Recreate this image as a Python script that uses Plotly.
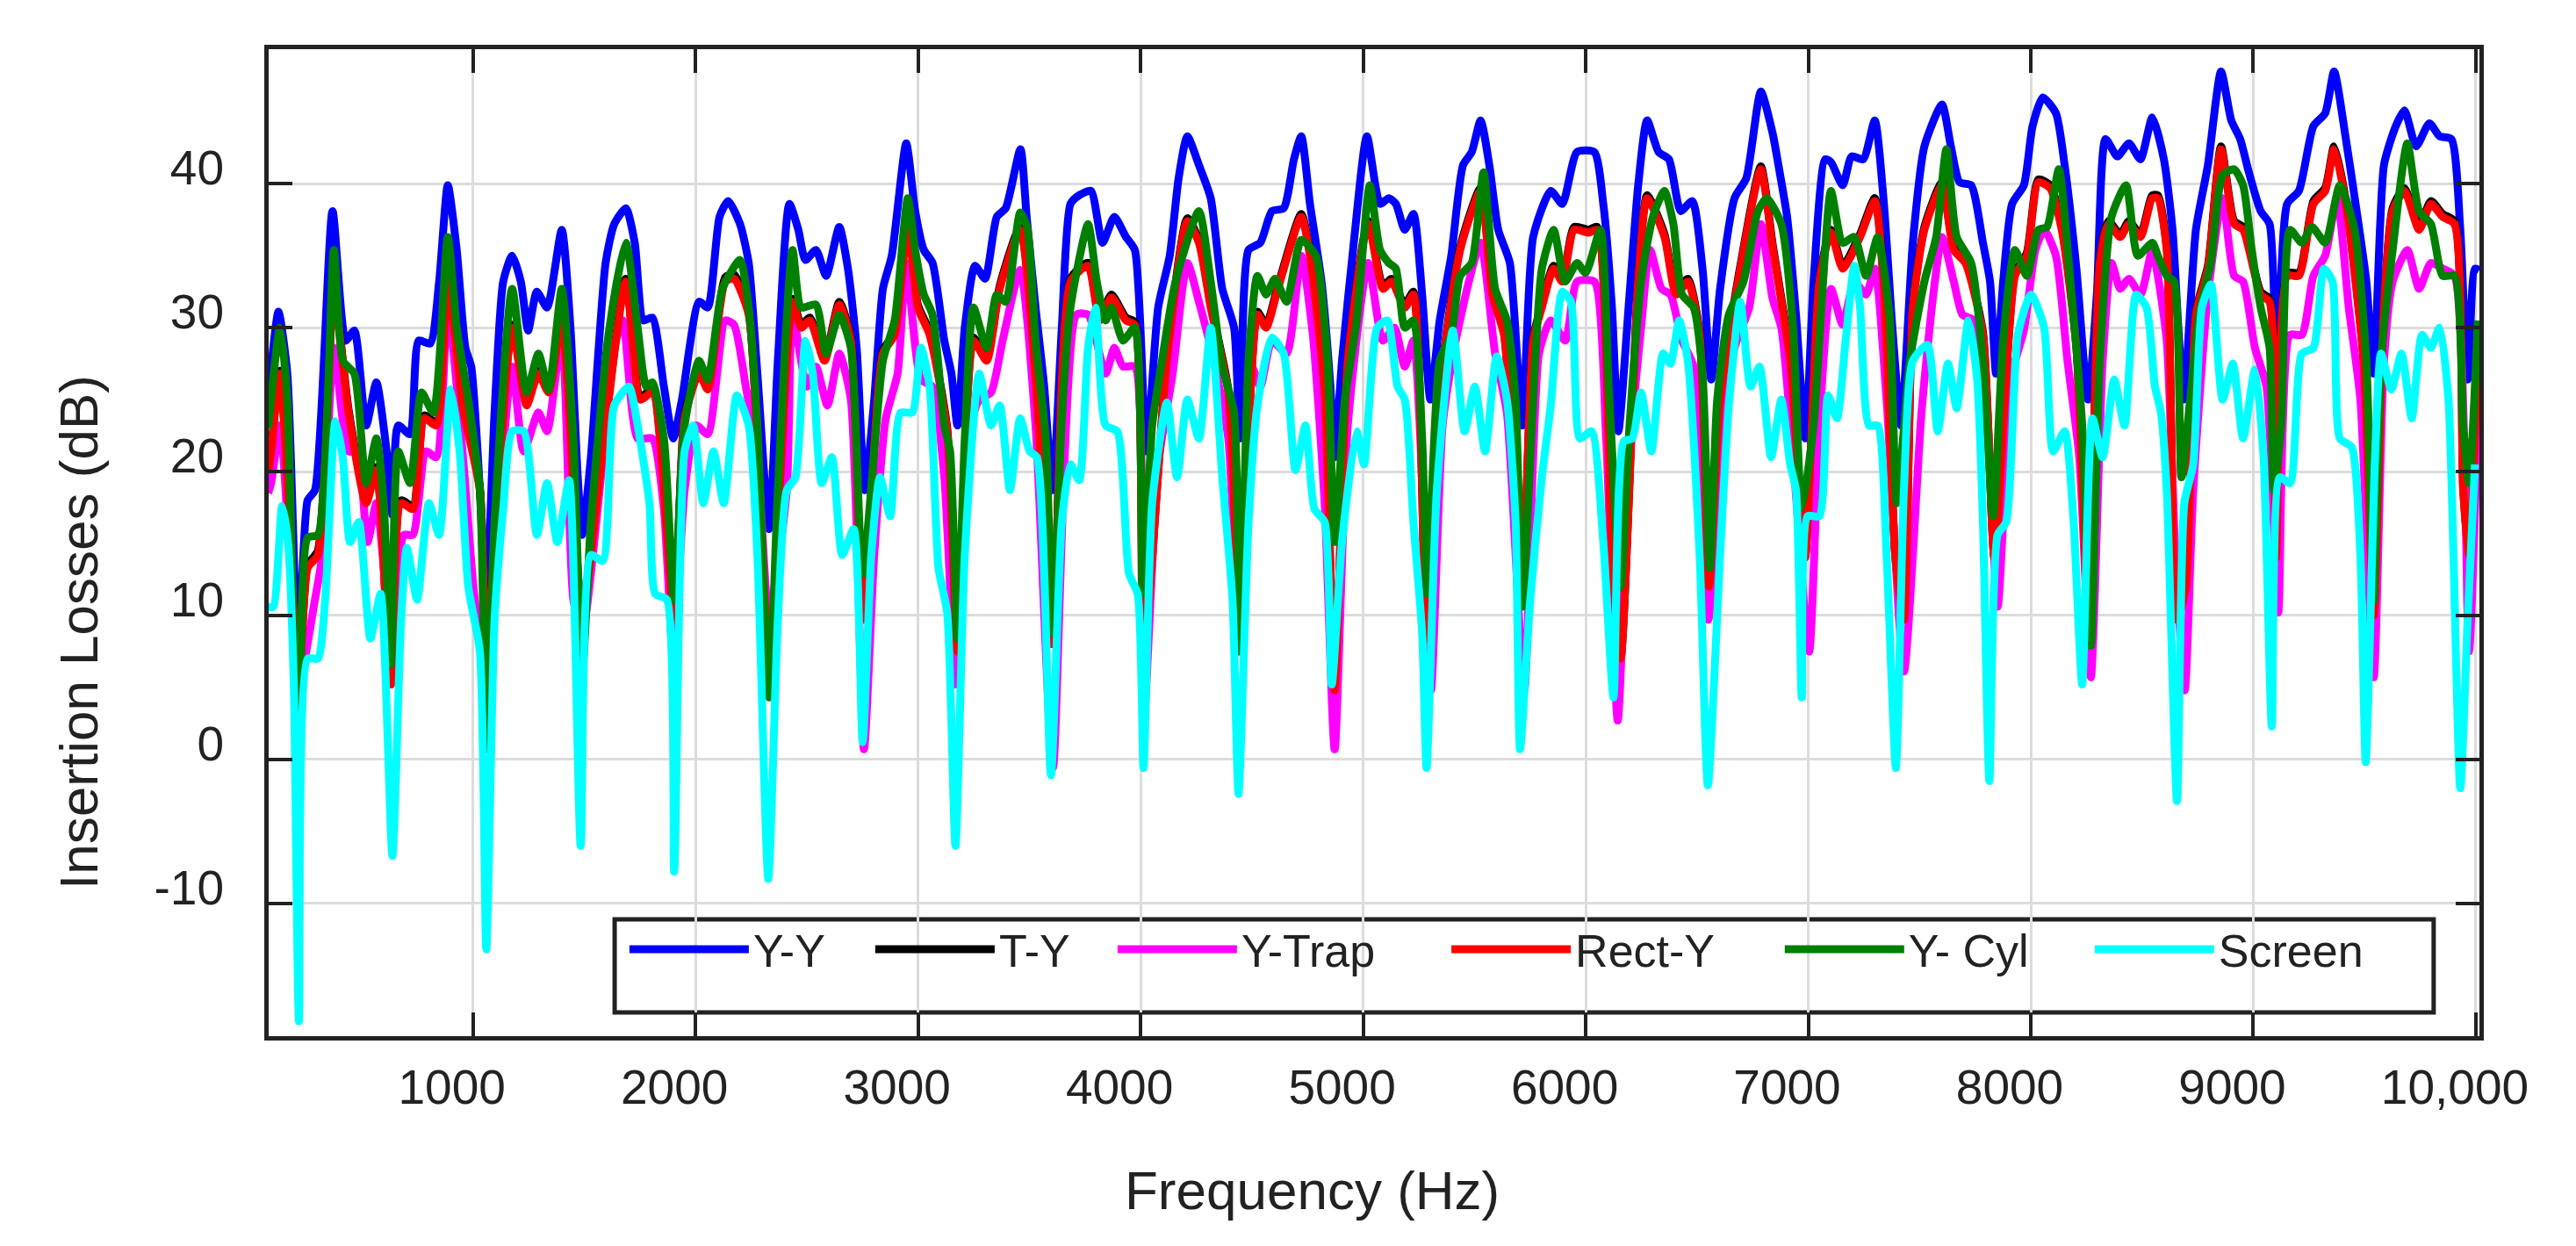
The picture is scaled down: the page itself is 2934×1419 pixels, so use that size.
import plotly.graph_objects as go

# Insertion losses (Hz, dB)
f_yy = [80, 126, 166, 215, 257, 290, 369, 428, 467, 520, 566, 612, 638, 664, 717, 756, 808, 848, 887, 927,
        966, 992, 1031, 1058, 1097, 1136, 1176, 1215, 1248, 1287, 1333, 1399, 1438, 1471, 1491, 1530, 1596, 1635, 1687, 1727,
        1766, 1806, 1858, 1900, 1939, 2016, 2055, 2108, 2147, 2200, 2239, 2278, 2331, 2370, 2422, 2462, 2494, 2541, 2587, 2646,
        2685, 2724, 2761, 2803, 2842, 2882, 2947, 2987, 3026, 3065, 3118, 3150, 3177, 3210, 3256, 3301, 3354, 3394, 3460, 3488,
        3528, 3567, 3604, 3646, 3685, 3724, 3777, 3829, 3882, 3934, 3974, 4026, 4079, 4131, 4171, 4210, 4262, 4315, 4367, 4420,
        4446, 4485, 4538, 4590, 4643, 4689, 4722, 4761, 4813, 4853, 4872, 4905, 4958, 5017, 5076, 5115, 5147, 5187, 5226, 5265,
        5302, 5344, 5396, 5449, 5488, 5528, 5567, 5607, 5659, 5715, 5764, 5843, 5895, 5961, 6039, 6079, 6118, 6147, 6197, 6236,
        6276, 6328, 6374, 6427, 6479, 6525, 6564, 6604, 6669, 6722, 6787, 6840, 6866, 6905, 6945, 6987, 7024, 7076, 7102, 7155,
        7195, 7247, 7299, 7338, 7378, 7417, 7470, 7522, 7601, 7641, 7680, 7732, 7785, 7817, 7844, 7876, 7916, 7969, 8008, 8054,
        8113, 8152, 8205, 8257, 8297, 8336, 8389, 8441, 8493, 8546, 8598, 8637, 8663, 8687, 8742, 8796, 8855, 8901, 8941, 8980,
        9033, 9073, 9106, 9152, 9205, 9270, 9323, 9363, 9416, 9468, 9508, 9541, 9587, 9640, 9679, 9732, 9791, 9837, 9890, 9930,
        9963, 9996, 10015]
il_yy = [25, 31.1, 26.8, 6.6, 18, 18.7, 38.1, 29.1, 29.8, 23.2, 26.2, 21.4, 17, 23.2, 22.6, 29.1, 28.9, 33.2, 39.9, 35.4,
         28.6, 27.3, 18.7, 10.5, 24.1, 33.2, 35, 33.2, 29.8, 32.5, 31.4, 36.8, 30, 19.6, 15.6, 21, 34.5, 37.2, 38.3, 35.9,
         30.5, 30.7, 25.9, 22.3, 25, 31.8, 31.4, 37.7, 38.8, 37.2, 34.5, 26.8, 16, 27.7, 38.6, 36.8, 34.7, 35.4, 33.6, 37,
         34.1, 28.6, 18.7, 25, 32.7, 35, 42.8, 38.1, 35.4, 34.5, 29.1, 26.8, 23.2, 30, 34.3, 33.4, 37.7, 38.3, 42.4, 37.7,
         31.4, 25.9, 18.7, 30, 38.6, 39.2, 39.5, 35.9, 37.7, 36.3, 35.4, 21.4, 31.4, 35, 40.4, 43.3, 41.3, 39, 32.7, 30,
         22.3, 35.4, 35.9, 38.1, 38.3, 41.7, 43.3, 38.6, 33.2, 25.9, 21, 27.7, 35.9, 43.3, 38.6, 39, 38.6, 36.8, 37.9, 32.3,
         25, 30.5, 35, 41.3, 42.2, 44.4, 41.3, 36.8, 34.5, 23.2, 36.3, 39.5, 38.6, 42.2, 42.2, 38.6, 31.4, 22.8, 32.3, 39.9,
         44.4, 42.2, 41.7, 38.1, 38.8, 34.1, 26.4, 32.7, 39, 40.4, 46.4, 43.5, 41.3, 37.7, 30.9, 22.3, 33.2, 41.7, 41.5, 39.9,
         41.9, 41.7, 44.4, 39, 30, 23.2, 35.9, 42.6, 45.5, 42.6, 40.1, 39.9, 35.9, 33.2, 26.8, 33.2, 38.6, 39.9, 44, 46,
         44.9, 41.3, 34.1, 25, 32.3, 43.1, 41.9, 42.8, 41.7, 44.6, 41.7, 36.8, 30, 25, 36.8, 41.3, 47.8, 44.4, 43.1, 40.8,
         38.1, 37.2, 26.8, 38.6, 39.5, 44, 44.9, 47.8, 43.1, 37.7, 33.2, 26.8, 41.3, 44, 45.1, 42.6, 44.2, 43.3, 43.1, 36.8,
         26.4, 34.1, 34]

f_rect = [80, 93, 133, 218, 257, 303, 375, 441, 520, 566, 631, 677, 730, 782, 835, 887, 953, 1031, 1060, 1176,
          1241, 1294, 1340, 1399, 1491, 1556, 1687, 1753, 1806, 1904, 1951, 2016, 2055, 2134, 2173, 2239, 2331, 2436, 2475, 2514,
          2580, 2646, 2698, 2751, 2842, 2895, 2954, 2999, 3052, 3131, 3177, 3249, 3308, 3367, 3459, 3528, 3606, 3685, 3764, 3816,
          3869, 3934, 3974, 4013, 4118, 4210, 4262, 4315, 4394, 4446, 4525, 4564, 4617, 4722, 4761, 4827, 4872, 4931, 5023, 5089,
          5128, 5187, 5226, 5285, 5344, 5436, 5528, 5580, 5633, 5715, 5764, 5803, 5856, 5895, 5948, 6013, 6052, 6118, 6157, 6236,
          6276, 6354, 6407, 6459, 6512, 6554, 6604, 6695, 6787, 6840, 6919, 6985, 7050, 7102, 7155, 7233, 7299, 7338, 7391, 7430,
          7470, 7522, 7601, 7654, 7706, 7785, 7837, 7929, 7982, 8034, 8087, 8139, 8205, 8260, 8310, 8349, 8402, 8441, 8493, 8546,
          8571, 8611, 8657, 8697, 8742, 8796, 8855, 8914, 8954, 9033, 9073, 9102, 9152, 9205, 9270, 9323, 9363, 9416, 9495, 9541,
          9587, 9626, 9679, 9745, 9798, 9851, 9904, 9943, 9969, 10009]
il_rect = [20, 21.4, 26.8, 5.2, 13.3, 14.2, 32.3, 24.1, 17.8, 20.1, 5.2, 17.8, 17.4, 23.7, 23.2, 33.2, 24.6, 18.7, 7.5, 30,
           24.6, 26.8, 25.5, 30.5, 9.7, 17.8, 33.2, 25, 25.5, 9.7, 23.7, 26.8, 25.7, 33.2, 33.4, 30.9, 7, 31.8, 30, 30.5,
           27.7, 31.6, 29.1, 9.7, 28.2, 29.5, 37.2, 31.4, 29.5, 22.8, 7.5, 29.1, 27.7, 32.7, 36.8, 26.4, 8, 33.2, 34.3, 30.5,
           32.1, 30.5, 30.2, 7, 27.7, 37.4, 35.9, 31.4, 25.5, 9.7, 30.9, 30, 32.7, 37.7, 35, 25.5, 4.8, 27.7, 37.2, 32.7,
           33.2, 31.4, 32.3, 8.4, 25.5, 35.4, 39.5, 32.3, 29.5, 12, 29.1, 31.4, 34.1, 33.2, 36.8, 36.6, 36.8, 14.2, 7, 33.2,
           39, 36.3, 32.3, 33.2, 29.5, 12, 25, 34.1, 41, 35.6, 27.7, 14, 33.2, 36.6, 34.1, 36.3, 38.8, 33.2, 14.2, 9.7,
           31.4, 36.8, 39.9, 35.4, 34.5, 29.5, 14, 33.6, 35, 40.1, 39.7, 36.8, 28.6, 9, 34.5, 37.2, 36.3, 37.2, 36.3, 39,
           39, 35.4, 9.7, 12, 30.9, 34.1, 42.4, 37.2, 36.8, 32.3, 31.8, 14, 33.6, 33.6, 38.6, 39.5, 42.4, 38.6, 27.7, 10,
           31.4, 38.1, 39.5, 36.8, 38.6, 37.7, 37.2, 18.7, 14.2, 28.6]

# T-Y sits almost exactly under Rect-Y in the picture
f_ty = f_rect
il_ty = [20.3, 21.6, 27, 5.2, 13.5, 14.5, 32.5, 24.3, 18, 20.3, 5.2, 18, 17.6, 23.9, 23.4, 33.4, 24.8, 18.9, 7.5, 30.2,
         24.8, 27, 25.7, 30.7, 9.7, 18, 33.4, 25.2, 25.7, 9.7, 23.9, 27, 25.9, 33.5, 33.7, 31.1, 7, 32, 30.2, 30.7,
         27.9, 31.8, 29.3, 9.7, 28.4, 29.7, 37.4, 31.6, 29.7, 23, 7.5, 29.3, 27.9, 32.9, 37, 26.6, 8, 33.4, 34.5, 30.7,
         32.3, 30.7, 30.4, 7, 27.9, 37.6, 36.1, 31.6, 25.7, 9.7, 31.1, 30.2, 32.9, 37.9, 35.2, 25.7, 4.8, 27.9, 37.4, 32.9,
         33.4, 31.6, 32.5, 8.4, 25.7, 35.6, 39.7, 32.5, 29.7, 12, 29.3, 31.6, 34.3, 33.4, 37, 36.8, 37, 14.2, 7, 33.4,
         39.2, 36.5, 32.5, 33.4, 29.7, 12, 25.2, 34.3, 41.2, 35.8, 27.9, 14, 33.4, 36.8, 34.3, 36.5, 39, 33.4, 14.2, 9.7,
         31.6, 37, 40.1, 35.6, 34.7, 29.7, 14, 33.8, 35.2, 40.3, 39.9, 37, 28.8, 9, 34.7, 37.4, 36.5, 37.4, 36.5, 39.2,
         39.2, 35.6, 9.7, 12, 31.1, 34.3, 42.6, 37.4, 37, 32.5, 32, 14, 33.8, 33.8, 38.8, 39.7, 42.6, 38.8, 27.9, 10,
         31.6, 38.3, 39.7, 37, 38.8, 37.9, 37.4, 18.9, 14.2, 28.8]

f_trap = [80, 93, 133, 179, 218, 290, 323, 375, 441, 480, 526, 566, 599, 631, 690, 730, 789, 835, 887, 953,
          1005, 1060, 1110, 1176, 1228, 1294, 1333, 1399, 1451, 1491, 1569, 1635, 1674, 1740, 1806, 1858, 1900, 1951, 2003, 2055,
          2134, 2173, 2226, 2278, 2331, 2410, 2436, 2501, 2541, 2593, 2646, 2698, 2757, 2803, 2855, 2908, 2947, 3013, 3065, 3118,
          3170, 3223, 3275, 3328, 3380, 3459, 3528, 3606, 3712, 3764, 3843, 3882, 3921, 3974, 4013, 4079, 4144, 4210, 4262, 4315,
          4394, 4442, 4499, 4538, 4590, 4656, 4722, 4774, 4827, 4872, 4931, 5023, 5089, 5141, 5187, 5226, 5265, 5305, 5357, 5410,
          5475, 5528, 5593, 5646, 5724, 5790, 5843, 5908, 5961, 6039, 6092, 6144, 6197, 6249, 6289, 6341, 6381, 6433, 6485, 6551,
          6604, 6669, 6735, 6787, 6840, 6879, 6932, 7004, 7050, 7102, 7155, 7207, 7260, 7299, 7352, 7430, 7509, 7562, 7601, 7654,
          7693, 7746, 7798, 7851, 7916, 7969, 8021, 8060, 8113, 8165, 8218, 8270, 8323, 8363, 8402, 8441, 8493, 8546, 8571, 8611,
          8650, 8692, 8730, 8796, 8862, 8914, 8954, 9007, 9059, 9112, 9165, 9218, 9270, 9323, 9376, 9429, 9481, 9541, 9587, 9626,
          9692, 9745, 9798, 9851, 9904, 9969, 10009]
il_trap = [18.5, 19.2, 23.2, 13.3, 5.2, 11.1, 14.2, 28.6, 21.4, 21.4, 15.1, 17.8, 13.3, 5.2, 15.6, 15.6, 21.4, 21, 31.4, 21.4,
           11.5, 5.2, 16.5, 27.3, 21.4, 24.1, 22.8, 29.5, 11.1, 8.8, 18.7, 28.6, 30.5, 22.3, 22.3, 17.4, 7, 18.7, 23.2, 22.6,
           30.5, 30.2, 25.9, 21, 9.7, 18.7, 30.9, 25.9, 27.3, 24.6, 28.2, 25, 0.7, 14.2, 23.7, 26.8, 34.5, 26.4, 25.9, 19.6,
           5.2, 22.3, 25, 25.5, 29.1, 34, 23.2, -0.6, 30.9, 30.9, 26.8, 28.6, 27.3, 27.3, 2.5, 20.5, 26.8, 34.5, 31.8, 28.6,
           22.3, 7.5, 27.3, 25.9, 29.1, 28.2, 35, 29.5, 17.8, 0.7, 23.2, 34.5, 29.1, 30, 27.3, 29.1, 19.6, 4.8, 23.2, 28.6,
           33.2, 35.9, 28.2, 24.1, 4.8, 28.2, 30.5, 29.1, 33.2, 33.2, 22.3, 2.7, 21, 30, 35.4, 32.7, 32.3, 29.1, 27.3, 9.7,
           21, 28.6, 31.4, 37.2, 32, 30, 21, 7.5, 23.2, 32.7, 30.2, 33.2, 32.3, 34.1, 25, 6.1, 24.1, 32.3, 36.3, 33.2,
           30.9, 30.5, 25.5, 10.6, 26.8, 29.8, 35.4, 36.8, 35, 27.7, 21, 5.7, 27.7, 34.5, 32.7, 33.4, 32.3, 35.4, 33.6, 29.1,
           14.2, 4.8, 18.7, 32.3, 39, 33.6, 33.2, 28.6, 25.9, 10.2, 29.5, 29.5, 33.6, 35, 39, 31.4, 25, 5.7, 27.7, 33.2,
           35.4, 32.7, 34.5, 34.1, 33.6, 7.5, 24.1]

f_cyl = [80, 133, 166, 218, 257, 303, 375, 415, 467, 520, 566, 599, 631, 664, 717, 769, 822, 887, 927, 979,
         1031, 1060, 1097, 1176, 1241, 1294, 1340, 1399, 1451, 1491, 1530, 1609, 1687, 1740, 1779, 1806, 1858, 1904, 1951, 2016,
         2055, 2121, 2200, 2239, 2278, 2331, 2370, 2436, 2475, 2541, 2587, 2646, 2698, 2751, 2842, 2895, 2954, 2987, 3026, 3065,
         3118, 3144, 3177, 3210, 3249, 3308, 3354, 3394, 3459, 3490, 3528, 3574, 3606, 3646, 3685, 3764, 3803, 3843, 3869, 3921,
         3974, 4010, 4052, 4092, 4157, 4262, 4315, 4367, 4420, 4446, 4485, 4525, 4564, 4604, 4656, 4722, 4787, 4840, 4872, 4918,
         4971, 5030, 5076, 5115, 5147, 5187, 5226, 5265, 5289, 5344, 5396, 5436, 5488, 5541, 5593, 5646, 5685, 5715, 5764, 5803,
         5856, 5908, 5961, 6000, 6066, 6105, 6157, 6197, 6249, 6302, 6354, 6394, 6433, 6485, 6525, 6558, 6591, 6643, 6709, 6774,
         6814, 6879, 6932, 6971, 7024, 7063, 7102, 7155, 7207, 7260, 7312, 7365, 7398, 7457, 7522, 7575, 7621, 7667, 7732, 7785,
         7831, 7876, 7929, 7982, 8034, 8073, 8126, 8178, 8231, 8270, 8310, 8363, 8428, 8481, 8546, 8571, 8611, 8644, 8677, 8716,
         8756, 8809, 8862, 8914, 8954, 8993, 9033, 9073, 9092, 9125, 9165, 9218, 9264, 9323, 9389, 9455, 9508, 9541, 9574, 9626,
         9692, 9745, 9798, 9851, 9904, 9943, 9969, 10009]
il_cyl = [23, 30, 25, -5.5, 15.4, 15.6, 35.4, 27.7, 26.8, 19.2, 22.3, 17.8, 6.6, 21.4, 19.2, 25.5, 24.1, 36.3, 30, 25,
          18.7, 0.7, 16.5, 32.7, 25.5, 28.2, 25.7, 32.7, 22.3, 6.1, 16.5, 29.5, 35.9, 30, 25.9, 26.2, 22.3, 11.1, 23.2, 27.7,
          26.4, 32.7, 34.7, 31.4, 23.2, 4.3, 18.7, 35.4, 31.4, 31.6, 28.2, 30.9, 28.6, 12.9, 27.7, 30.5, 39, 35.4, 32.3, 30.9,
          23.2, 21.4, 8.4, 22.3, 31.4, 28.6, 32.3, 31.8, 38, 37, 29.1, 22.3, 8.8, 23.7, 31.4, 37.2, 33.2, 30.5, 31.4, 29.1,
          30, 11.5, 23.2, 27.3, 33.2, 38.1, 33.2, 27.3, 24.1, 7.5, 27.7, 33.6, 32.3, 33.4, 31.8, 36.1, 35, 27.7, 15.1, 25,
          30.5, 39.9, 35.4, 34.5, 34.1, 30, 30.5, 22.3, 11.5, 27.7, 29.5, 33.6, 34.5, 40.8, 32.7, 30.5, 25, 10.6, 25, 34.1,
          36.8, 33.2, 34.5, 33.8, 36.8, 25.5, 12, 23.2, 33.2, 37.7, 39.5, 37.2, 32.3, 31.4, 26.8, 13.3, 25, 30.9, 33.2, 38.1,
          39, 37.2, 30, 17.5, 23.2, 32.3, 39.5, 35.9, 36.3, 33.6, 36.3, 30.9, 17.8, 27.7, 33.2, 36.3, 42.4, 36.3, 34.5, 27.7,
          16.9, 29.1, 35.4, 33.6, 36.8, 37, 41, 33.2, 23.2, 7.9, 27.7, 37.7, 39.9, 35, 35.9, 35, 33.6, 33.2, 19.6, 25,
          30.9, 34.5, 40.6, 41, 39.9, 35.4, 31.4, 28.6, 18.7, 23.2, 36.8, 35.9, 37, 35.9, 39.9, 36.8, 27.7, 11, 27.7, 35.4,
          42.8, 38.1, 37.2, 33.6, 33.6, 23.2, 19.2, 30.5]

f_screen = [80, 103, 142, 169, 195, 218, 257, 303, 336, 382, 415, 448, 487, 539, 585, 638, 677, 703, 749, 802,
            848, 900, 940, 979, 1031, 1060, 1097, 1136, 1176, 1228, 1287, 1333, 1379, 1432, 1484, 1530, 1583, 1635, 1701, 1740,
            1793, 1819, 1871, 1904, 1951, 1990, 2035, 2081, 2127, 2186, 2239, 2278, 2327, 2370, 2410, 2449, 2494, 2527, 2567, 2613,
            2659, 2711, 2751, 2790, 2829, 2875, 2921, 2974, 3013, 3052, 3092, 3131, 3168, 3210, 3275, 3328, 3367, 3413, 3459, 3502,
            3534, 3597, 3646, 3685, 3724, 3764, 3797, 3843, 3895, 3948, 3987, 4013, 4052, 4118, 4164, 4210, 4262, 4315, 4367, 4413,
            4440, 4485, 4525, 4590, 4643, 4696, 4741, 4781, 4827, 4859, 4905, 4971, 5004, 5063, 5109, 5155, 5187, 5226, 5265, 5285,
            5331, 5403, 5456, 5502, 5548, 5600, 5646, 5685, 5705, 5751, 5803, 5843, 5895, 5934, 5974, 6026, 6079, 6125, 6171, 6210,
            6249, 6295, 6348, 6381, 6420, 6459, 6512, 6549, 6604, 6643, 6695, 6741, 6781, 6833, 6879, 6919, 6945, 6971, 6997, 7050,
            7089, 7129, 7168, 7207, 7233, 7273, 7312, 7352, 7394, 7430, 7470, 7536, 7582, 7628, 7667, 7720, 7759, 7785, 7814, 7851,
            7890, 7942, 8001, 8060, 8100, 8152, 8191, 8231, 8277, 8323, 8375, 8421, 8474, 8520, 8558, 8585, 8611, 8657, 8690, 8730,
            8769, 8809, 8862, 8908, 8954, 9007, 9046, 9083, 9119, 9165, 9218, 9270, 9317, 9356, 9389, 9442, 9481, 9505, 9547, 9574,
            9620, 9666, 9712, 9758, 9798, 9837, 9877, 9930, 9963, 9996]
il_screen = [10.6, 10.6, 17.6, 15.1, 5.2, -18.2, 7, 7, 11.1, 23.5, 21, 15.1, 16.5, 8.4, 11.5, -6.7, 9.7, 14.7, 11.1, 17.8,
             15.6, 25.7, 21.4, 12, 7.5, -13.2, 9.7, 17.4, 22.8, 22.8, 15.6, 19.2, 15.1, 19.4, -6, 14.2, 13.8, 24.6, 25.9, 23.2,
             17.8, 11.5, 11.1, -7.8, 21.4, 23.2, 17.8, 21.4, 17.8, 25.3, 23.2, 14.2, -8.3, 9.7, 18.7, 19.6, 29.1, 26.8, 19.2, 21,
             14.2, 16, 1.2, 14.2, 19.6, 16.9, 24.1, 24.1, 28.6, 25.9, 13.3, 10.2, -6, 14.2, 26.8, 23.2, 24.6, 18.7, 23.7, 21.4,
             21, -1.1, 16.5, 20.5, 19.4, 28.6, 31.4, 23.2, 22.8, 12.9, 11.5, -0.6, 17.8, 24.8, 19.6, 25, 22.3, 30, 19.6, 11.1,
             -2.4, 16.5, 24.6, 29.3, 28.2, 20.1, 23.2, 17.4, 16.5, 5.2, 15.1, 22.8, 20.5, 30, 30.5, 25.9, 25, 16.5, 8.8, -0.6,
             18.7, 29.8, 22.8, 25.9, 21.4, 28, 25, 16.5, 0.7, 11.1, 19.6, 24.6, 32.5, 31.8, 22.3, 22.8, 15.1, 4.3, 22.1, 22.3,
             25.5, 21.4, 28.2, 27.5, 30.5, 27.7, 14.2, -1.8, 14.2, 24.6, 31.8, 25.9, 27.3, 21, 25, 20.5, 18.7, 4.3, 16.9, 16.9,
             25.3, 23.7, 29.1, 34.3, 31.4, 23.2, 23.2, 14.2, -0.6, 18.7, 27.7, 28.8, 22.8, 27.5, 24.4, 30.5, 26.4, 16.5, -1.5, 15.6,
             16.5, 29.5, 32.3, 30, 21.4, 22.8, 16.9, 5.2, 23.7, 21, 26.4, 23.2, 32.3, 31.4, 25.9, 24.1, 18.7, -2.9, 17.8, 20.5,
             31.4, 33, 25, 27.5, 22.3, 27.1, 21, 2.3, 19.6, 19.2, 28.2, 28.6, 34.1, 33.2, 22.3, 21.7, 14.2, -0.2, 21, 28.2,
             25.7, 28.2, 23.7, 29.5, 28.6, 30, 25, -2, 9.7, 20.5]

x_ticks = [1000, 2000, 3000, 4000, 5000, 6000, 7000, 8000, 9000, 10000]
x_labels = ["1000", "2000", "3000", "4000", "5000", "6000", "7000", "8000", "9000", "10,000"]
y_ticks = [-10, 0, 10, 20, 30, 40]
y_labels = ["-10", "0", "10", "20", "30", "40"]

FONT = "Arial, 'Liberation Sans', sans-serif"
INK = "#222222"


def montar_figura():
    # name, data, colour, left edge of its legend entry (paper x)
    series = [
        ("Y-Y", f_yy, il_yy, "#0000ff", 0.1612),
        ("T-Y", f_ty, il_ty, "#000000", 0.2724),
        ("Y-Trap", f_trap, il_trap, "#ff00ff", 0.3820),
        ("Rect-Y", f_rect, il_rect, "#ff0000", 0.5330),
        ("Y- Cyl", f_cyl, il_cyl, "#008000", 0.6838),
        ("Screen", f_screen, il_screen, "#00ffff", 0.8240),
    ]
    fig = go.Figure()
    legendas = {}
    for i, (nome, f, il, cor, lx) in enumerate(series):
        chave = "legend" if i == 0 else "legend%d" % (i + 1)
        fig.add_trace(go.Scatter(x=f, y=il, mode="lines", name=nome, legend=chave, showlegend=True,
                                 line=dict(color=cor, width=9, shape="spline", smoothing=0.6)))
        legendas[chave] = dict(orientation="h", x=lx, xanchor="left", y=0.088, yanchor="middle",
                               bgcolor="rgba(0,0,0,0)", borderwidth=0, itemwidth=136,
                               font=dict(family=FONT, size=52, color=INK))

    eixo = dict(showline=True, linewidth=5, linecolor=INK, mirror="ticks",
                ticks="inside", ticklen=27, tickwidth=4, tickcolor=INK,
                showgrid=True, gridcolor="#dcdcdc", gridwidth=3, zeroline=False,
                tickfont=dict(family=FONT, size=55, color=INK))
    fig.update_xaxes(range=[82, 10016], tickvals=x_ticks, ticktext=x_labels,
                     ticklabelshift=-24, ticklabelstandoff=6, **eixo)
    fig.update_yaxes(range=[-19.23, 49.35], tickvals=y_ticks, ticktext=y_labels,
                     ticklabelshift=-18, ticklabelstandoff=35, **eixo)

    # legend frame: white box over the grid, under the curves
    fig.add_shape(type="rect", xref="paper", yref="paper", x0=0.1565, x1=0.9793, y0=0.0240, y1=0.1183,
                  line=dict(color=INK, width=5), fillcolor="white", layer="between")

    fig.add_annotation(text="Frequency (Hz)", xref="paper", yref="paper", x=0.4722, y=-0.1557,
                       showarrow=False, xanchor="center", yanchor="middle",
                       font=dict(family=FONT, size=62, color=INK))
    fig.add_annotation(text="Insertion Losses (dB)", xref="paper", yref="paper", x=-0.0858, y=0.4093,
                       textangle=-90, showarrow=False, xanchor="center", yanchor="middle",
                       font=dict(family=FONT, size=62, color=INK))

    fig.update_layout(
        width=2934, height=1419,
        margin=dict(l=306, r=110, t=56, b=239, pad=0),
        paper_bgcolor="white", plot_bgcolor="white",
        font=dict(family=FONT, color=INK),
        showlegend=True,
        **legendas,
    )
    return fig


if __name__ == "__main__":
    fig = montar_figura()
    # drop the browser's default body margin so the figure sits at the page corner
    fig.write_html("out.html", config={"displayModeBar": False},
                   post_script="document.body.style.margin='0';")
